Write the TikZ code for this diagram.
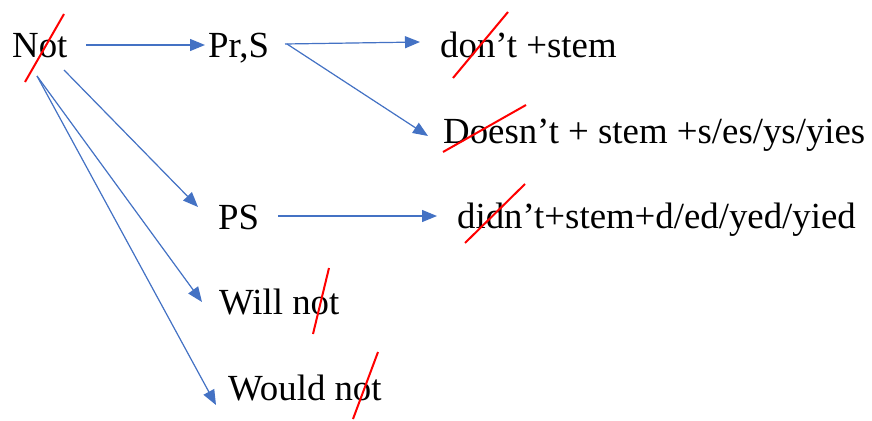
\documentclass[tikz,border=0pt]{standalone}
\usepackage{fontspec}
\setmainfont{Liberation Serif}
\usetikzlibrary{arrows.meta}
\definecolor{arrblue}{HTML}{4472C4}
\tikzset{
  lbl/.style={anchor=base west,inner sep=0pt,font=\fontsize{36.8}{44}\selectfont},
  arr/.style={draw=arrblue,line width=1.2pt,-{Triangle[length=15pt,width=12pt]},fill=arrblue},
  strike/.style={draw=red,line width=2pt}
}
\begin{document}
\begin{tikzpicture}[x=1pt,y=-1pt]
\useasboundingbox (0,0) rectangle (872,420);
\node[lbl] (not) at (12,58) {Not};
\node[lbl] (prs) at (208,58) {Pr,S};
\node[lbl] (dont) at (440,58) {don’t +stem};
\node[lbl] (doesnt) at (443,143) {Doesn’t + stem +s/es/ys/yies};
\node[lbl] (ps) at (218,229) {PS};
\node[lbl] (didnt) at (457,228) {didn’t+stem+d/ed/yed/yied};
\node[lbl] (will) at (219,314) {Will not};
\node[lbl] (would) at (228,400) {Would not};
% arrows
\draw[arr] ([shift={(74,-13)}]not.base west) -- ([shift={(-3,-13)}]prs.base west);
\draw[arr] ([shift={(77,-14)}]prs.base west) -- ([shift={(-20,-16)}]dont.base west);
\draw[arr] ([shift={(79,-14)}]prs.base west) -- ([shift={(-15,-7)}]doesnt.base west);
\draw[arr] ([shift={(52,12)}]not.base west) -- ([shift={(-20,-22)}]ps.base west);
\draw[arr] ([shift={(25,18)}]not.base west) -- ([shift={(-17,-12)}]will.base west);
\draw[arr] ([shift={(25,18)}]not.base west) -- ([shift={(-12,5)}]would.base west);
\draw[arr] ([shift={(60,-13)}]ps.base west) -- ([shift={(-20,-12)}]didnt.base west);
% strikes
\draw[strike] ([shift={(13,24)}]not.base west) -- ([shift={(52,-44)}]not.base west);
\draw[strike] ([shift={(13,20)}]dont.base west) -- ([shift={(68,-46)}]dont.base west);
\draw[strike] ([shift={(0,9)}]doesnt.base west) -- ([shift={(83,-38)}]doesnt.base west);
\draw[strike] ([shift={(8,15)}]didnt.base west) -- ([shift={(68,-44)}]didnt.base west);
\draw[strike] ([shift={(94,20)}]will.base west) -- ([shift={(110,-46)}]will.base west);
\draw[strike] ([shift={(125,19)}]would.base west) -- ([shift={(150,-48)}]would.base west);
\end{tikzpicture}
\end{document}
